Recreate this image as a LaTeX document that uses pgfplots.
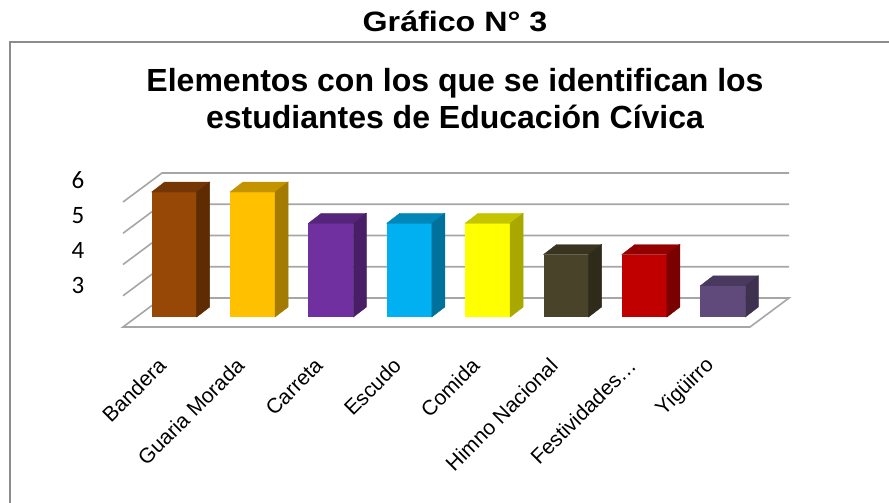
\documentclass[border=0pt]{standalone}
\usepackage{pgfplots}
\pgfplotsset{compat=1.18}
\usepackage{pgfplotstable}
\usepackage{fontspec}
\setmainfont{Liberation Sans}
\newfontfamily\calibri{Carlito}
\definecolor{f0}{HTML}{974706}\definecolor{t0}{HTML}{743604}\definecolor{s0}{HTML}{5F2B02}
\definecolor{f1}{HTML}{FFC000}\definecolor{t1}{HTML}{C49300}\definecolor{s1}{HTML}{A37B00}
\definecolor{f2}{HTML}{7030A0}\definecolor{t2}{HTML}{56247B}\definecolor{s2}{HTML}{481E66}
\definecolor{f3}{HTML}{00B0F0}\definecolor{t3}{HTML}{0087B8}\definecolor{s3}{HTML}{00719A}
\definecolor{f4}{HTML}{FFFF00}\definecolor{t4}{HTML}{C4C400}\definecolor{s4}{HTML}{A8A800}
\definecolor{f5}{HTML}{494429}\definecolor{t5}{HTML}{38341F}\definecolor{s5}{HTML}{2F2B1A}
\definecolor{f6}{HTML}{C00000}\definecolor{t6}{HTML}{930000}\definecolor{s6}{HTML}{7B0000}
\definecolor{f7}{HTML}{604A7B}\definecolor{t7}{HTML}{4A395E}\definecolor{s7}{HTML}{3E304F}
\definecolor{gridc}{HTML}{A6A6A6}
\definecolor{framec}{HTML}{8C8C8C}

\pgfplotstableread{
x v
0 6
1 6
2 5
3 5
4 5
5 4
6 4
7 3
}\datatable

\pgfdeclareplotmark{empty}{}

\begin{document}
\begin{tikzpicture}
\draw[framec, line width=2pt] (10pt,-620pt) -- (10pt,-42pt) -- (960pt,-42pt);
\node[font=\bfseries\fontsize{28}{30}\selectfont, anchor=base, inner sep=0pt] at (455pt,-32pt) {\scalebox{1.15}[1]{Gráfico N° 3}};
\node[font=\bfseries\fontsize{32}{36}\selectfont, anchor=base, inner sep=0pt] at (455pt,-92pt) {Elementos con los que se identifican los};
\node[font=\bfseries\fontsize{32}{36}\selectfont, anchor=base, inner sep=0pt] at (455pt,-128pt) {estudiantes de Educación Cívica};
\begin{axis}[
  at={(135pt,-317pt)}, anchor=south west,
  x=78.375pt, y=31.25pt,
  xmin=-0.5, xmax=7.5, ymin=2, ymax=6,
  axis line style={draw=none}, major tick length=0pt,
  clip=false,
  xtick={0,...,7},
  xticklabels={Bandera, Guaria Morada, Carreta, Escudo, Comida, Himno Nacional, Festividades…, Yigüirro},
  xticklabel style={font=\fontsize{21}{23}\selectfont, inner sep=0pt, xshift=-12pt, yshift=-45pt, rotate=45, anchor=east},
  ytick={3,4,5,6},
  yticklabel={\raisebox{\dimexpr-7.5pt+3.6pt*\ticknum\relax}{\pgfmathprintnumber[assume math mode=true]{\tick}}},
  yticklabel style={font=\calibri\fontsize{25}{27}\selectfont, anchor=base, inner sep=0pt, xshift=-57pt},
]
% floor
\draw[gridc, line width=1.6pt, fill=white]
  ([shift={(-12pt,-10pt)}]axis cs:-0.5,2) -- ([shift={(-12pt,-10pt)}]axis cs:7.5,2)
  -- ([shift={(27pt,19pt)}]axis cs:7.5,2) -- ([shift={(27pt,19pt)}]axis cs:-0.5,2) -- cycle;
% left wall diagonals and back wall grid lines
\pgfplotsinvokeforeach{3,4,5,6}{
  \draw[gridc, line width=1.6pt] ([shift={(-12pt,-10pt)}]axis cs:-0.5,#1)
    -- ([shift={(27pt,19pt)}]axis cs:-0.5,#1) -- ([shift={(27pt,19pt)}]axis cs:7.5,#1);
}
% depth faces (top and side) of the bars
\addplot[scatter, only marks, mark=empty,
  visualization depends on={\thisrow{v} \as \val},
  visualization depends on=value \coordindex \as \idx,
  scatter/@pre marker code/.code={%
    \pgfmathsetmacro\h{(\val-2)*31.25}%
    \pgfmathsetmacro\hh{10-\h}%
    \fill[t\idx] (-22.5pt,0pt) -- (-9.5pt,10pt) -- (35.5pt,10pt) -- (22.5pt,0pt) -- cycle;
    \fill[s\idx] (22.5pt,0pt) -- (35.5pt,10pt) -- (35.5pt,\hh pt) -- (22.5pt,-\h pt) -- cycle;
  },
  scatter/@post marker code/.code={},
] table[x=x,y=v] {\datatable};
% front faces
\pgfplotsinvokeforeach{0,...,7}{
  \addplot[ybar, bar width=45pt, bar shift=0pt, fill=f#1, draw=none,
    restrict expr to domain={\coordindex}{#1:#1}] table[x=x,y=v] {\datatable};
}
\end{axis}
\pgfresetboundingbox
\useasboundingbox (0pt,0pt) rectangle (889pt,-503pt);
\end{tikzpicture}
\end{document}
